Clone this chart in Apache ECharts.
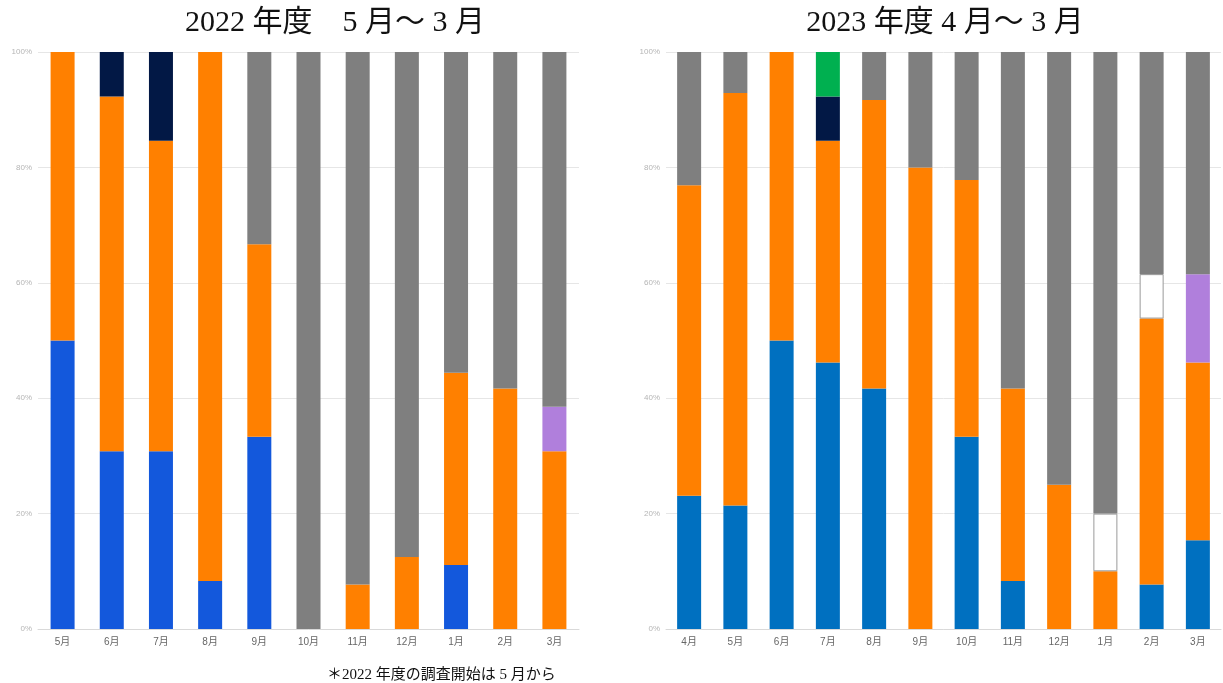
<!DOCTYPE html>
<html>
<head>
<meta charset="utf-8">
<script src="https://cdn.jsdelivr.net/npm/echarts@6/dist/echarts.min.js"></script>
<style>
  html, body { margin: 0; padding: 0; background: #ffffff; }
  #chart { width: 1223px; height: 683px; }
</style>
</head>
<body>
<div id="chart"></div>
<script>
// FY2022 (May–March)
const months2022 = ['5月', '6月', '7月', '8月', '9月', '10月', '11月', '12月', '1月', '2月', '3月'];
const blue2022   = [50, 30.8, 30.8, 8.3, 33.3, null, null, null, 11.1, null, null];
const orange2022 = [50, 61.5, 53.8, 91.7, 33.4, null, 7.7, 12.5, 33.3, 41.7, 30.8];
const navy2022   = [null, 7.7, 15.4, null, null, null, null, null, null, null, null];
const purple2022 = [null, null, null, null, null, null, null, null, null, null, 7.7];
const grey2022   = [null, null, null, null, 33.3, 100, 92.3, 87.5, 55.6, 58.3, 61.5];

// FY2023 (April–March)
const months2023 = ['4月', '5月', '6月', '7月', '8月', '9月', '10月', '11月', '12月', '1月', '2月', '3月'];
const blue2023   = [23.1, 21.4, 50, 46.2, 41.7, null, 33.3, 8.3, null, null, 7.7, 15.4];
const orange2023 = [53.8, 71.5, 50, 38.4, 50, 80, 44.5, 33.4, 25, 10, 46.1, 30.8];
const navy2023   = [null, null, null, 7.7, null, null, null, null, null, null, null, null];
const green2023  = [null, null, null, 7.7, null, null, null, null, null, null, null, null];
const purple2023 = [null, null, null, null, null, null, null, null, null, null, null, 15.3];
const white2023  = [null, null, null, null, null, null, null, null, null, 10, 7.7, null];
const grey2023   = [23.1, 7.1, null, null, 8.3, 20, 22.2, 58.3, 75, 80, 38.5, 38.5];

const yTicks = [0, 20, 40, 60, 80, 100];

const serifFont = '"Liberation Serif", "DejaVu Serif", "Noto Sans CJK JP", serif';
const sansFont = '"Liberation Sans", "Noto Sans CJK JP", sans-serif';

function yAxis(gridIndex) {
  return {
    gridIndex, type: 'value', min: 0, max: 100, interval: 20,
    axisLabel: { formatter: v => yTicks.includes(v) ? v + '%' : '', color: '#b5b5b5', fontSize: 8, fontFamily: sansFont, margin: 6 },
    splitLine: { lineStyle: { color: '#e6e6e6', width: 1 } },
    axisLine: { show: false }, axisTick: { show: false }
  };
}
function xAxis(gridIndex, cats) {
  return {
    gridIndex, type: 'category', data: cats,
    axisLabel: { color: '#666666', fontSize: 10, fontFamily: sansFont, margin: 8 },
    axisLine: { lineStyle: { color: '#d9d9d9' } }, axisTick: { show: false }
  };
}
function bar(name, data, color, idx, extra) {
  return Object.assign({
    name, type: 'bar', stack: 's' + idx, data,
    xAxisIndex: idx, yAxisIndex: idx, barWidth: 24,
    itemStyle: { color }, silent: true
  }, extra || {});
}

const chart = echarts.init(document.getElementById('chart'), null, { renderer: 'canvas' });
chart.setOption({
  animation: false,
  backgroundColor: '#ffffff',
  title: [
    { text: '2022 年度　5 月～ 3 月', left: 330, top: 3, textAlign: 'center',
      textStyle: { fontFamily: serifFont, fontSize: 30, fontWeight: 'normal', color: '#111' } },
    { text: '2023 年度 4 月～ 3 月', left: 940, top: 3, textAlign: 'center',
      textStyle: { fontFamily: serifFont, fontSize: 30, fontWeight: 'normal', color: '#111' } },
    { text: '＊2022 年度の調査開始は 5 月から', left: 322, top: 663,
      textStyle: { fontFamily: serifFont, fontSize: 15, fontWeight: 'normal', color: '#111' } }
  ],
  grid: [
    { left: 38, width: 541, top: 52, height: 577 },
    { left: 666, width: 555, top: 52, height: 577 }
  ],
  xAxis: [xAxis(0, months2022), xAxis(1, months2023)],
  yAxis: [yAxis(0), yAxis(1)],
  series: [
    bar('blue', blue2022, '#1358dc', 0),
    bar('orange', orange2022, '#ff8000', 0),
    bar('navy', navy2022, '#021845', 0),
    bar('purple', purple2022, '#b07fdc', 0),
    bar('grey', grey2022, '#7f7f7f', 0),

    bar('blue', blue2023, '#0070c0', 1),
    bar('orange', orange2023, '#ff8000', 1),
    bar('navy', navy2023, '#021845', 1),
    bar('green', green2023, '#00b050', 1),
    bar('purple', purple2023, '#b07fdc', 1),
    bar('white', white2023, '#ffffff', 1, { itemStyle: { color: '#ffffff', borderColor: '#9a9a9a', borderWidth: 1 } }),
    bar('grey', grey2023, '#7f7f7f', 1)
  ]
});
</script>
</body>
</html>
